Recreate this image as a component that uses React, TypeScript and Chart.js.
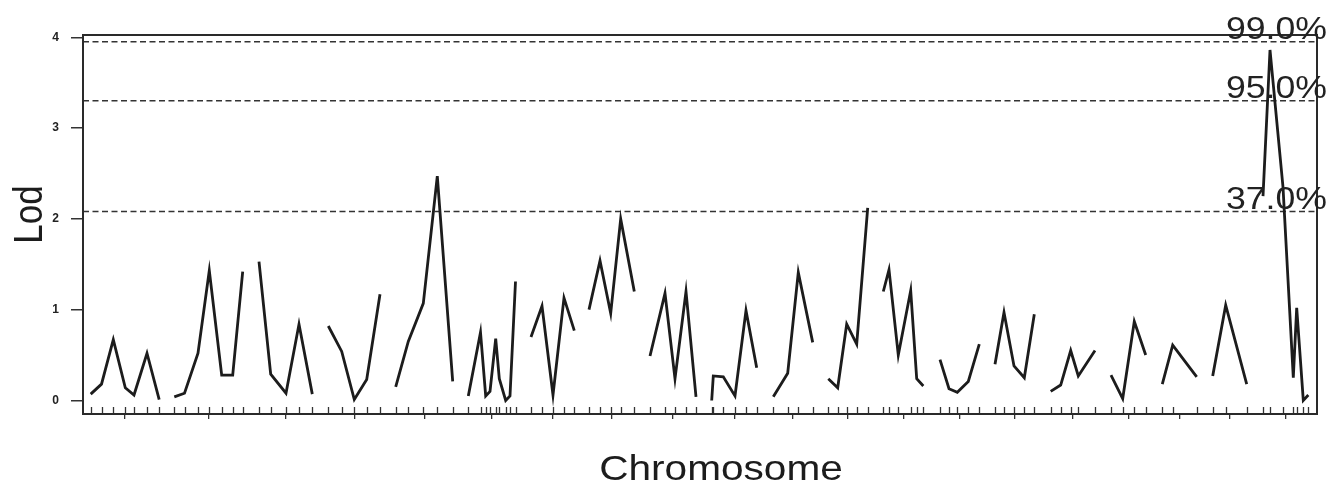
import React, { useEffect, useRef } from 'react';
import { Chart, registerables } from 'chart.js';

Chart.register(...registerables);

// Marker positions (arbitrary genome units along the x axis) and LOD scores per chromosome
const pos1 = [7.7, 18.5, 30.3, 42.3, 51, 64, 76.2];
const lod1 = [0.07, 0.18, 0.67, 0.14, 0.06, 0.52, 0.01];
const pos2 = [91.3, 101.5, 115, 126.3, 138.7, 149.7, 159.7];
const lod2 = [0.04, 0.08, 0.52, 1.43, 0.28, 0.28, 1.42];
const pos3 = [176, 187.7, 203, 216, 229.3];
const lod3 = [1.53, 0.29, 0.08, 0.84, 0.07];
const pos4 = [245.3, 258.7, 271.3, 283.7, 297];
const lod4 = [0.82, 0.54, 0.01, 0.23, 1.17];
const pos5 = [312.7, 325.3, 340.3, 354.3, 369.7];
const lod5 = [0.15, 0.65, 1.07, 2.47, 0.21];
const pos6 = [385.3, 397.5, 402.7, 407, 412.7, 416.3, 422.7, 427, 432.5];
const lod6 = [0.05, 0.75, 0.05, 0.1, 0.68, 0.24, 0.0, 0.05, 1.31];
const pos7 = [448, 459, 470, 481, 491.3];
const lod7 = [0.7, 1.04, 0.06, 1.13, 0.77];
const pos8 = [506, 517, 527.7, 537.7, 551.3];
const lod8 = [1.0, 1.54, 0.96, 2.0, 1.2];
const pos9 = [567, 582, 592, 603, 613];
const lod9 = [0.49, 1.18, 0.24, 1.2, 0.04];
const pos10 = [628.7, 630.3, 640.3, 652, 663, 673.7];
const lod10 = [0.0, 0.27, 0.26, 0.05, 0.99, 0.36];
const pos11 = [690.3, 704.7, 715.3, 729.7];
const lod11 = [0.04, 0.3, 1.41, 0.64];
const pos12 = [745.3, 754.7, 763.7, 773.7, 784.7];
const lod12 = [0.24, 0.14, 0.84, 0.62, 2.12];
const pos13 = [800.3, 806, 815.3, 827.7, 833.7, 840.3];
const lod13 = [1.2, 1.44, 0.5, 1.21, 0.24, 0.16];
const pos14 = [857, 866, 874.3, 885.3, 896.3];
const lod14 = [0.45, 0.13, 0.09, 0.21, 0.62];
const pos15 = [912, 921, 931, 941.3, 951.3];
const lod15 = [0.4, 0.97, 0.38, 0.25, 0.95];
const pos16 = [967.7, 977.7, 987.7, 995.3, 1012];
const lod16 = [0.1, 0.17, 0.55, 0.27, 0.55];
const pos17 = [1028, 1039.7, 1051.3, 1062.7];
const lod17 = [0.28, 0.02, 0.87, 0.5];
const pos18 = [1079.3, 1089.7, 1113.7];
const lod18 = [0.18, 0.61, 0.26];
const pos19 = [1129.7, 1142.7, 1163.7];
const lod19 = [0.27, 1.05, 0.18];
const pos20 = [1180, 1187, 1200, 1210.3, 1213.7, 1220.3, 1225.3];
const lod20 = [2.25, 3.86, 2.35, 0.25, 1.02, 0.0, 0.06];

const chromosomePositions = [pos1, pos2, pos3, pos4, pos5, pos6, pos7, pos8, pos9, pos10,
  pos11, pos12, pos13, pos14, pos15, pos16, pos17, pos18, pos19, pos20];
const chromosomeLods = [lod1, lod2, lod3, lod4, lod5, lod6, lod7, lod8, lod9, lod10,
  lod11, lod12, lod13, lod14, lod15, lod16, lod17, lod18, lod19, lod20];

const thresholdLevels = [3.95, 3.3, 2.08];
const thresholdLabels = ['99.0%', '95.0%', '37.0%'];
const yTickValues = [0, 1, 2, 3, 4];
const xMin = 0;
const xMax = 1234;
const yMin = -0.149;
const yMax = 4.025;
const xTitle = 'Chromosome';
const yTitle = 'Lod';

const INK = '#1c1c1c';
const FONT = '"Liberation Sans", Arial, Helvetica, sans-serif';

const decorPlugin = {
  id: 'decor',
  afterDraw(chart: any) {
    const { ctx, chartArea: a, scales } = chart;
    const xs = scales.x;
    const ys = scales.y;
    ctx.save();
    // rug marks at marker positions
    ctx.strokeStyle = '#333';
    ctx.lineWidth = 1.3;
    ctx.beginPath();
    chromosomePositions.forEach((arr) => {
      arr.forEach((p) => {
        const px = Math.round(xs.getPixelForValue(p)) + 0.5;
        ctx.moveTo(px, a.bottom);
        ctx.lineTo(px, a.bottom - 7);
      });
    });
    ctx.stroke();
    // frame
    ctx.lineWidth = 2;
    ctx.strokeStyle = '#2a2a2a';
    ctx.strokeRect(a.left, a.top, a.right - a.left, a.bottom - a.top);
    // threshold labels
    ctx.fillStyle = '#222';
    ctx.font = `31px ${FONT}`;
    ctx.textAlign = 'right';
    ctx.textBaseline = 'alphabetic';
    thresholdLevels.forEach((lv, i) => {
      ctx.save();
      ctx.translate(a.right + 10, ys.getPixelForValue(lv) - 3);
      ctx.scale(1.15, 1);
      ctx.fillText(thresholdLabels[i], 0, 0);
      ctx.restore();
    });
    // x axis title
    ctx.fillStyle = INK;
    ctx.font = `35px ${FONT}`;
    ctx.textAlign = 'center';
    ctx.save();
    ctx.translate((a.left + a.right) / 2 + 21, 480);
    ctx.scale(1.16, 1);
    ctx.fillText(xTitle, 0, 0);
    ctx.restore();
    // y axis title
    ctx.save();
    ctx.translate(42, (a.top + a.bottom) / 2 - 10);
    ctx.scale(1.16, 1);
    ctx.rotate(-Math.PI / 2);
    ctx.fillText(yTitle, 0, 0);
    ctx.restore();
    ctx.restore();
  },
};

export default function App() {
  const canvasRef = useRef<HTMLCanvasElement | null>(null);

  useEffect(() => {
    if (!canvasRef.current) return;
    const chromosomeDatasets = chromosomePositions.map((positions, i) => ({
      label: `Chr ${i + 1}`,
      data: positions.map((p, j) => ({ x: p, y: chromosomeLods[i][j] })),
      borderColor: INK,
      borderWidth: 2.8,
      pointRadius: 0,
      tension: 0,
      fill: false,
      order: 1,
    }));
    const thresholdDatasets = thresholdLevels.map((lv, i) => ({
      label: thresholdLabels[i],
      data: [{ x: xMin, y: lv }, { x: xMax, y: lv }],
      borderColor: '#333',
      borderWidth: 1.5,
      borderDash: [6, 3.5],
      pointRadius: 0,
      fill: false,
      order: 2,
    }));

    const chart = new Chart(canvasRef.current, {
      type: 'line',
      data: { datasets: [...chromosomeDatasets, ...thresholdDatasets] as any },
      options: {
        animation: false,
        responsive: false,
        maintainAspectRatio: false,
        layout: { padding: { top: 35, right: 22, left: 0, bottom: 0 } },
        plugins: { legend: { display: false }, tooltip: { enabled: false } },
        scales: {
          x: {
            type: 'linear',
            min: xMin,
            max: xMax,
            afterBuildTicks: (scale: any) => {
              scale.ticks = chromosomePositions.map((arr) => ({
                value: (arr[0] + arr[arr.length - 1]) / 2,
              }));
            },
            afterFit: (scale: any) => {
              scale.height = 68;
            },
            border: { display: false },
            grid: {
              drawOnChartArea: false,
              drawTicks: true,
              tickLength: 5,
              color: '#333',
              lineWidth: 1.3,
            },
            ticks: { display: false },
          },
          y: {
            type: 'linear',
            min: yMin,
            max: yMax,
            afterBuildTicks: (scale: any) => {
              scale.ticks = yTickValues.map((v) => ({ value: v }));
            },
            afterFit: (scale: any) => {
              scale.width = 83;
            },
            border: { display: false },
            grid: {
              drawOnChartArea: false,
              drawTicks: true,
              tickLength: 12,
              color: '#333',
              lineWidth: 1.5,
            },
            ticks: {
              padding: 12,
              color: '#222',
              font: { family: FONT, size: 12, weight: 'bold' },
              callback: (v: any) => String(v),
            },
          },
        },
      },
      plugins: [decorPlugin],
    });
    return () => chart.destroy();
  }, []);

  return (
    <div style={{ position: 'fixed', left: 0, top: 0, width: 1339, height: 482, background: '#fff' }}>
      <canvas ref={canvasRef} width={1339} height={482} style={{ display: 'block' }} />
    </div>
  );
}
